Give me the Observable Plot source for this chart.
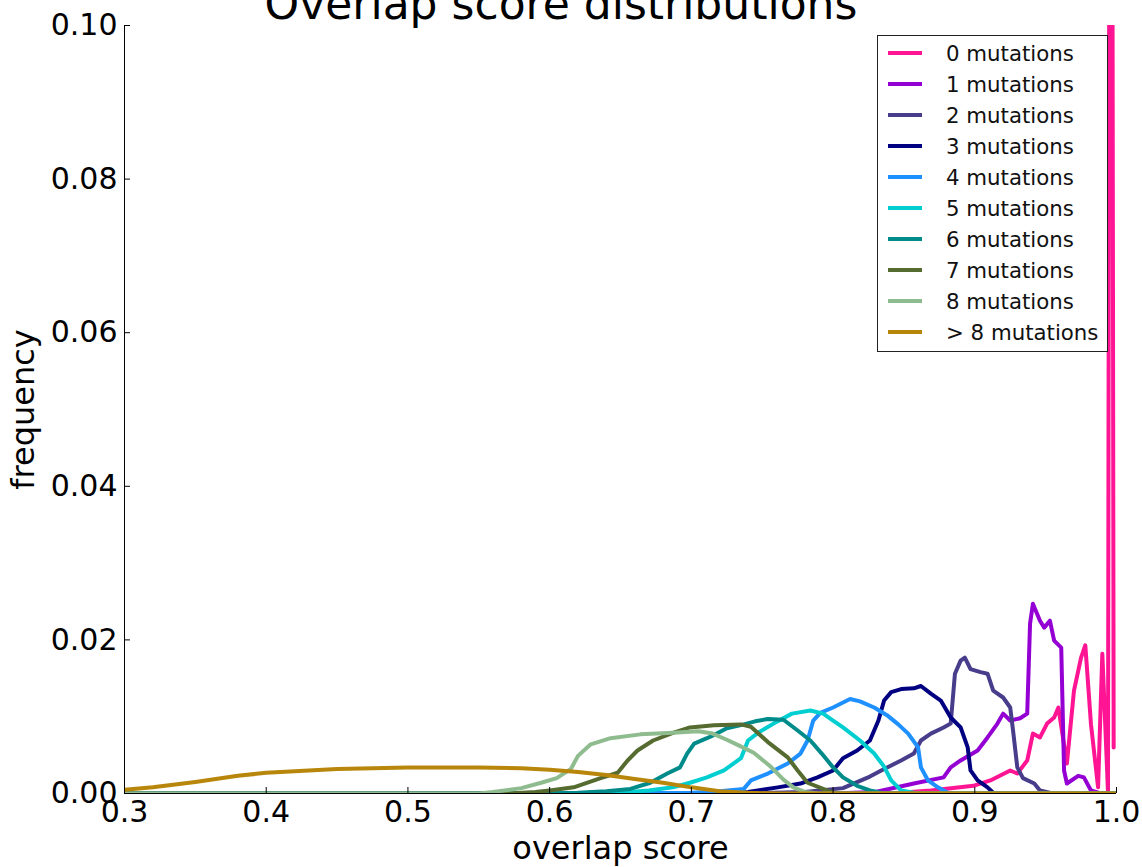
<!DOCTYPE html>
<html>
<head>
<meta charset="utf-8">
<script src="https://cdn.jsdelivr.net/npm/d3@7"></script>
<script src="https://cdn.jsdelivr.net/npm/@observablehq/plot@0.6"></script>
<style>
  html, body { margin: 0; padding: 0; background: #fff; overflow: hidden; }
  #wrap { position: relative; width: 1142px; height: 867px; font-family: "DejaVu Sans", sans-serif; }
  #title { position: absolute; left: 0; top: -18px; width: 1122px; text-align: center; font-size: 44px; line-height: 44px; color: #000; white-space: nowrap; }
  #chart { position: absolute; left: 0; top: 0; }
  #legend { position: absolute; left: 877px; top: 35px; width: 229px; height: 315px; border: 1px solid #222; background: #fff; box-sizing: content-box; }
  .row { position: absolute; left: 0; height: 31px; width: 229px; }
  .swatch { position: absolute; left: 10px; top: 13px; width: 34px; height: 4px; }
  .lab { position: absolute; left: 68px; top: 0; line-height: 31px; font-size: 21.3px; color: #111; white-space: nowrap; }
</style>
</head>
<body>
<div id="wrap">
  <div id="chart"></div>
  <div id="title">Overlap score distributions</div>
  <div id="legend"></div>
</div>
<script>
// ---- data ----
const xDomain = [0.3, 1.0];
const yDomain = [0, 0.10];
const xTicks = [0.3, 0.4, 0.5, 0.6, 0.7, 0.8, 0.9, 1.0];
const yTicks = [0, 0.02, 0.04, 0.06, 0.08, 0.10];
const seriesNames = ["0 mutations", "1 mutations", "2 mutations", "3 mutations", "4 mutations",
  "5 mutations", "6 mutations", "7 mutations", "8 mutations", "> 8 mutations"];
const seriesColors = ["#ff1493", "#9400d3", "#483d8b", "#000080", "#1e90ff",
  "#00ced1", "#008b8b", "#556b2f", "#8fbc8f", "#b8860b"];

const mut0 = [[0.30,0],[0.84,0],[0.869,0.0004],[0.899,0.0010],[0.911,0.0017],[0.925,0.0030],[0.930,0.0026],
  [0.937,0.0043],[0.941,0.0078],[0.946,0.0073],[0.951,0.0091],[0.956,0.0099],[0.959,0.0112],[0.965,0.0039],
  [0.970,0.0134],[0.975,0.0177],[0.978,0.0193],[0.982,0.0090],[0.987,0.0008],[0.990,0.0182],[0.994,0.0002],
  [0.996,0.25],[0.998,0.0060]];
const mut1 = [[0.30,0],[0.80,0],[0.83,0.0002],[0.857,0.0013],[0.878,0.0021],[0.883,0.0034],[0.890,0.0043],
  [0.902,0.0056],[0.909,0.0073],[0.916,0.0091],[0.920,0.0104],[0.925,0.0095],[0.932,0.0098],[0.937,0.0104],
  [0.939,0.0221],[0.941,0.0247],[0.946,0.0225],[0.949,0.0216],[0.953,0.0225],[0.956,0.0199],[0.961,0.0190],
  [0.963,0.0030],[0.965,0.0013],[0.973,0.0023],[0.977,0.0021],[0.982,0.0004],[0.989,0],[1.0,0]];
const mut2 = [[0.30,0],[0.74,0],[0.78,0.0002],[0.807,0.0007],[0.826,0.0022],[0.834,0.0030],[0.848,0.0043],
  [0.857,0.0052],[0.862,0.0069],[0.869,0.0078],[0.878,0.0086],[0.883,0.0091],[0.886,0.0156],[0.890,0.0173],
  [0.893,0.0177],[0.897,0.0162],[0.904,0.0158],[0.909,0.0156],[0.913,0.0134],[0.920,0.0125],[0.925,0.0112],
  [0.927,0.0082],[0.930,0.0034],[0.934,0.0020],[0.942,0.0013],[0.946,0.0004],[0.955,0],[1.0,0]];
const mut3 = [[0.30,0],[0.70,0],[0.74,0.0002],[0.761,0.0008],[0.777,0.0013],[0.789,0.0021],[0.800,0.0030],
  [0.807,0.0046],[0.817,0.0056],[0.826,0.0069],[0.832,0.0095],[0.836,0.0121],[0.841,0.0132],[0.848,0.0136],
  [0.857,0.0137],[0.862,0.0140],[0.869,0.0130],[0.876,0.0121],[0.883,0.0099],[0.890,0.0086],[0.895,0.0060],
  [0.897,0.0030],[0.902,0.0017],[0.909,0.0008],[0.913,0.0001],[0.92,0],[1.0,0]];
const mut4 = [[0.30,0],[0.65,0],[0.70,0.0001],[0.72,0.0003],[0.737,0.0006],[0.742,0.0017],[0.754,0.0026],
  [0.768,0.0039],[0.777,0.0052],[0.782,0.0069],[0.786,0.0095],[0.791,0.0105],[0.800,0.0112],[0.812,0.0123],
  [0.819,0.0120],[0.829,0.0112],[0.838,0.0102],[0.846,0.0090],[0.853,0.0078],[0.860,0.0060],[0.862,0.0034],
  [0.867,0.0017],[0.874,0.0008],[0.881,0.0001],[0.89,0],[1.0,0]];
const mut5 = [[0.30,0],[0.62,0],[0.65,0.0001],[0.67,0.0004],[0.687,0.0008],[0.699,0.0014],[0.711,0.0021],
  [0.723,0.0030],[0.735,0.0046],[0.740,0.0069],[0.747,0.0079],[0.758,0.0091],[0.771,0.0104],[0.784,0.0108],
  [0.793,0.0104],[0.800,0.0095],[0.807,0.0086],[0.819,0.0069],[0.829,0.0052],[0.836,0.0035],[0.841,0.0017],
  [0.848,0.0004],[0.86,0],[1.0,0]];
const mut6 = [[0.30,0],[0.60,0],[0.62,0.0001],[0.64,0.0003],[0.657,0.0006],[0.671,0.0014],[0.683,0.0026],
  [0.692,0.0034],[0.697,0.0052],[0.702,0.0065],[0.711,0.0072],[0.718,0.0078],[0.725,0.0085],[0.735,0.0089],
  [0.745,0.0094],[0.754,0.0097],[0.765,0.0096],[0.775,0.0082],[0.784,0.0069],[0.792,0.0052],[0.800,0.0034],
  [0.807,0.0021],[0.817,0.0010],[0.826,0.0004],[0.834,0.0001],[0.85,0],[1.0,0]];
const mut7 = [[0.30,0],[0.57,0],[0.59,0.0002],[0.60,0.0004],[0.617,0.0008],[0.636,0.0020],[0.648,0.0027],
  [0.655,0.0043],[0.662,0.0056],[0.673,0.0069],[0.687,0.0079],[0.699,0.0086],[0.716,0.0089],[0.735,0.0090],
  [0.742,0.0087],[0.754,0.0067],[0.768,0.0047],[0.775,0.0030],[0.782,0.0014],[0.793,0.0006],[0.80,0.0001],
  [0.81,0],[1.0,0]];
const mut8 = [[0.30,0],[0.55,0],[0.56,0.0002],[0.58,0.0007],[0.594,0.0014],[0.605,0.0020],[0.615,0.0032],
  [0.620,0.0049],[0.629,0.0064],[0.643,0.0072],[0.664,0.0077],[0.687,0.0079],[0.705,0.0081],[0.715,0.0078],
  [0.725,0.0070],[0.733,0.0063],[0.744,0.0053],[0.756,0.0035],[0.765,0.0018],[0.772,0.0008],[0.78,0.0002],
  [0.79,0],[1.0,0]];
const mutGt8 = [[0.30,0.0005],[0.32,0.0008],[0.35,0.0015],[0.38,0.0023],[0.40,0.0027],[0.43,0.0030],
  [0.45,0.0032],[0.50,0.0034],[0.55,0.0034],[0.58,0.0033],[0.60,0.0031],[0.62,0.0028],[0.64,0.0024],
  [0.66,0.0019],[0.68,0.0014],[0.70,0.0008],[0.72,0.0003],[0.74,0.0001],[0.76,0],[1.0,0]];

const seriesData = [mut0, mut1, mut2, mut3, mut4, mut5, mut6, mut7, mut8, mutGt8];

// ---- chart ----
const marks = [
  Plot.ruleX([xDomain[0]], {stroke: "#000", strokeWidth: 1}),
  Plot.ruleY([yDomain[0]], {stroke: "#000", strokeWidth: 1}),
  ...seriesData.map((s, i) => Plot.line(s, {
    x: d => d[0], y: d => d[1], stroke: seriesColors[i], strokeWidth: 4,
    strokeLinejoin: "round", clip: true
  })),
  Plot.axisX(xTicks, {tickSize: -6, tickPadding: 13, tickFormat: d3.format(".1f"), fontSize: 30, label: null, stroke: "#000"}),
  Plot.axisY(yTicks, {tickSize: -6, tickPadding: 13, tickFormat: d3.format(".2f"), fontSize: 30, label: null, stroke: "#000"}),
  Plot.text(["overlap score"], {text: d => d, frameAnchor: "bottom", lineAnchor: "bottom", dy: 65, fontSize: 32, fill: "#000"}),
  Plot.text(["frequency"], {text: d => d, frameAnchor: "left", textAnchor: "middle", rotate: -90, dx: -101, fontSize: 32, fill: "#000"})
];

const chart = Plot.plot({
  width: 1142,
  height: 867,
  marginLeft: 124,
  marginRight: 26,
  marginTop: 25,
  marginBottom: 74,
  style: {fontFamily: "DejaVu Sans, sans-serif", background: "#fff", color: "#000", overflow: "visible"},
  x: {domain: xDomain, axis: null},
  y: {domain: yDomain, axis: null},
  marks
});
document.getElementById("chart").appendChild(chart);

// ---- legend ----
const legend = document.getElementById("legend");
seriesNames.forEach((name, i) => {
  const row = document.createElement("div");
  row.className = "row";
  row.style.top = (1.5 + 31 * i) + "px";
  const sw = document.createElement("div");
  sw.className = "swatch";
  sw.style.background = seriesColors[i];
  const lab = document.createElement("div");
  lab.className = "lab";
  lab.textContent = name;
  row.appendChild(sw);
  row.appendChild(lab);
  legend.appendChild(row);
});
</script>
</body>
</html>
